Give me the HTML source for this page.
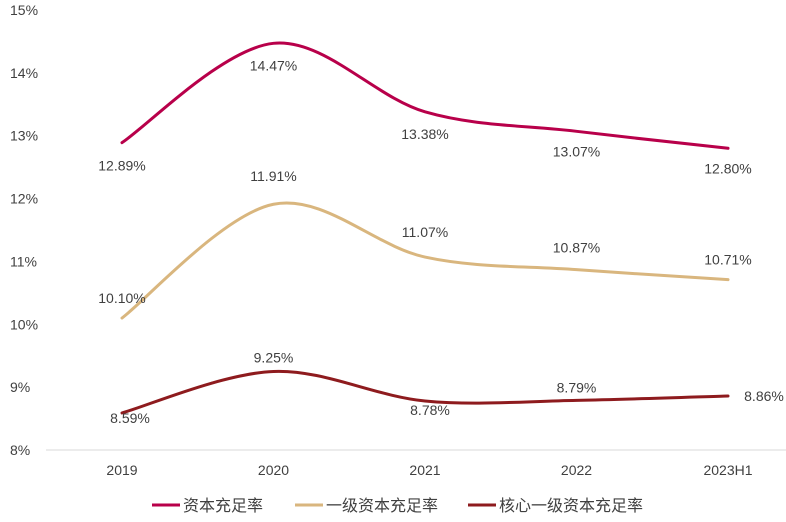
<!DOCTYPE html>
<html><head><meta charset="utf-8">
<style>
html,body{margin:0;padding:0;background:#fff;}
svg text{font-family:"Liberation Sans","Noto Sans CJK SC",sans-serif;fill:#404040;}
</style></head>
<body>
<svg id="chart" width="786" height="517" xmlns="http://www.w3.org/2000/svg">
<g id="axes"></g>
<g id="series"></g>
<g id="labels"></g>
<g id="legend"></g>
</svg>
<script>
const categories = ["2019","2020","2021","2022","2023H1"];
const capitalRatio = [12.89,14.47,13.38,13.07,12.80];
const tier1Ratio = [10.10,11.91,11.07,10.87,10.71];
const coreTier1Ratio = [8.59,9.25,8.78,8.79,8.86];
const yTicks = [8,9,10,11,12,13,14,15];
const seriesNames = ["资本充足率","一级资本充足率","核心一级资本充足率"];

const NS="http://www.w3.org/2000/svg";
const X0=122, DX=151.5, Y15=10, PPU=62.86;
const xS=i=>X0+i*DX;
const yS=v=>Y15+(15-v)*PPU;
function mk(tag,attrs,parent){const e=document.createElementNS(NS,tag);for(const k in attrs)e.setAttribute(k,attrs[k]);parent.appendChild(e);return e;}

const axes=document.getElementById('axes');
yTicks.forEach(t=>{
  const tx=mk('text',{x:10,y:yS(t)+5,'font-size':14},axes);
  tx.textContent=t+'%';
  
  
});
const axl=mk('line',{x1:46,x2:786,y1:yS(8),y2:yS(8),stroke:'#d9d9d9','stroke-width':1},axes);


categories.forEach((c,i)=>{
  const tx=mk('text',{x:xS(i),y:475,'font-size':14,'text-anchor':'middle'},axes);
  tx.textContent=c;
  
  
});

function smoothPath(vals){
  const p=vals.map((v,i)=>[xS(i),yS(v)]);
  let d=`M${p[0][0]},${p[0][1]}`;
  for(let i=0;i<p.length-1;i++){
    const p0=p[i-1]||p[i],p1=p[i],p2=p[i+1],p3=p[i+2]||p[i+1];
    const c1=[p1[0]+(p2[0]-p0[0])/6,p1[1]+(p2[1]-p0[1])/6];
    const c2=[p2[0]-(p3[0]-p1[0])/6,p2[1]-(p3[1]-p1[1])/6];
    d+=` C${c1[0]},${c1[1]} ${c2[0]},${c2[1]} ${p2[0]},${p2[1]}`;
  }
  return d;
}
const colors=['#B8004A','#D9B67E','#8E1B1E'];
const allSeries=[capitalRatio,tier1Ratio,coreTier1Ratio];
const seriesEl=document.getElementById('series');
const labelsEl=document.getElementById('labels');
const offs=[
  [[0,28],[0,27],[0,27],[0,25],[0,25]],
  [[0,-15],[0,-23],[0,-20],[0,-17],[0,-15]],
  [[8,10],[0,-9],[5,14],[0,-8],[36,5]]
];
allSeries.forEach((vals,s)=>{
  const pth=mk('path',{d:smoothPath(vals),fill:'none',stroke:colors[s],'stroke-width':3,'stroke-linecap':'round'},seriesEl);
  
  
  vals.forEach((v,i)=>{
    const tx=mk('text',{x:xS(i)+offs[s][i][0],y:yS(v)+offs[s][i][1],'font-size':14,'text-anchor':'middle'},labelsEl);
    tx.textContent=v.toFixed(2)+'%';
    
    
  });
});
const legend=document.getElementById('legend');
const lx=[152,295,468];
seriesNames.forEach((n,s)=>{
  const g=mk('g',{},legend);
  
  
  mk('line',{x1:lx[s],x2:lx[s]+28,y1:505,y2:505,stroke:colors[s],'stroke-width':3},g);
  const tx=mk('text',{x:lx[s]+31,y:511,'font-size':16},g);
  tx.textContent=n;
});
</script>
</body></html>
